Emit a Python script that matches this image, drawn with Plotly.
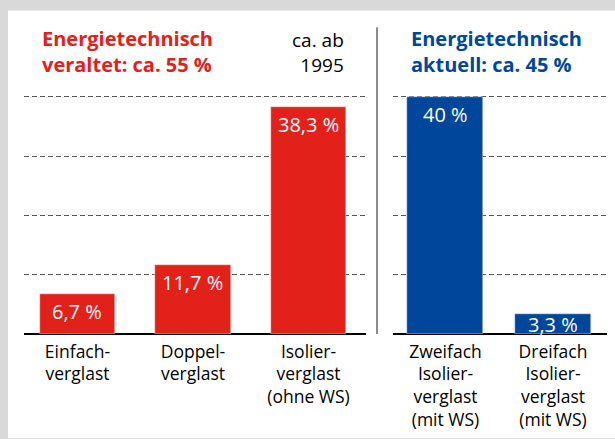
import plotly.graph_objects as go

# ---------------- data ----------------
old_categories = ["Einfach-<br>verglast", "Doppel-<br>verglast", "Isolier-<br>verglast<br>(ohne WS)"]
old_values = [6.7, 11.7, 38.3]
new_categories = ["Zweifach<br>Isolier-<br>verglast<br>(mit WS)", "Dreifach<br>Isolier-<br>verglast<br>(mit WS)"]
new_values = [40, 3.3]
old_title = ["Energietechnisch", "veraltet: ca. 55 %"]
new_title = ["Energietechnisch", "aktuell: ca. 45 %"]
note_lines = ["ca. ab", "1995"]
grid_values = [10, 20, 30, 40]

RED = "#e3211b"
BLUE = "#00479b"
FONT = "Open Sans"

W, H = 615, 439
ML, MR, MT, MB = 24, 8, 67, 103
PW = W - ML - MR
PH = H - MT - MB


def px_x(x):
    return (x - ML) / PW


def px_y(y):
    return (H - MB - y) / PH


def fmt(v):
    s = f"{v:g}".replace(".", ",")
    return s + " %"


fig = go.Figure()
fig.add_trace(go.Bar(x=old_categories, y=old_values, marker_color=RED, width=0.65,
                     xaxis="x", yaxis="y", hoverinfo="skip"))
fig.add_trace(go.Bar(x=new_categories, y=new_values, marker_color=BLUE, width=0.707,
                     xaxis="x2", yaxis="y", hoverinfo="skip"))

ann = []
YMAX = 45
for cats, vals, xr in ((old_categories, old_values, "x"), (new_categories, new_values, "x2")):
    for c, v in zip(cats, vals):
        hpx = v / YMAX * PH
        if hpx > 30:
            ann.append(dict(x=c, y=v, xref=xr, yref="y", text=fmt(v), showarrow=False,
                            yanchor="top", yshift=-2,
                            font=dict(family=FONT, size=20, color="white")))
        else:
            ann.append(dict(x=c, y=v / 2, xref=xr, yref="y", text=fmt(v), showarrow=False,
                            yanchor="middle", yshift=0,
                            font=dict(family=FONT, size=20, color="white")))

TOP = 23
ann.append(dict(x=px_x(40), y=px_y(TOP), xref="paper", yref="paper", text="<br>".join(old_title),
                showarrow=False, xanchor="left", yanchor="top", align="left",
                font=dict(family=FONT, size=20, color=RED, weight="bold")))
ann.append(dict(x=px_x(409), y=px_y(TOP), xref="paper", yref="paper", text="<br>".join(new_title),
                showarrow=False, xanchor="left", yanchor="top", align="left",
                font=dict(family=FONT, size=20, color=BLUE, weight="bold")))
ann.append(dict(x=px_x(346), y=px_y(TOP + 2), xref="paper", yref="paper", text="<br>".join(note_lines),
                showarrow=False, xanchor="right", yanchor="top", align="right",
                font=dict(family=FONT, size=19, color="black")))

shapes = [
    dict(type="rect", xref="paper", yref="paper", x0=px_x(8), x1=px_x(W + 2), y0=px_y(10), y1=px_y(H + 2),
         fillcolor="white", line=dict(width=0), layer="below"),
    dict(type="line", xref="paper", yref="paper", x0=px_x(377), x1=px_x(377), y0=0, y1=px_y(27),
         line=dict(color="#666666", width=1.5)),
]

fig.update_layout(
    width=W, height=H,
    margin=dict(l=ML, r=MR, t=MT, b=MB),
    paper_bgcolor="#d9d9d9",
    plot_bgcolor="rgba(0,0,0,0)",
    showlegend=False,
    bargap=0,
    annotations=ann,
    shapes=shapes,
    font=dict(family=FONT, size=17, color="black"),
    xaxis=dict(domain=[0, px_x(366)], type="category", range=[-0.463, 2.498],
               showgrid=False, showline=False, ticks="", zeroline=False, ticklabelstandoff=5,
               tickfont=dict(family=FONT, size=17.5, color="black")),
    xaxis2=dict(domain=[px_x(393), 1], type="category", range=[-0.488, 1.502], anchor="y",
                showgrid=False, showline=False, ticks="", zeroline=False, ticklabelstandoff=5,
                tickfont=dict(family=FONT, size=17.5, color="black")),
    yaxis=dict(range=[0, YMAX], tickvals=grid_values, showticklabels=False, ticks="",
               showgrid=True, gridcolor="#555555", gridwidth=1, griddash="5px,3px",
               zeroline=True, zerolinecolor="black", zerolinewidth=1.5, showline=False),
)

fig.write_html("out.html", config={"displayModeBar": False},
               post_script="document.body.style.margin='0';document.body.style.background='#d9d9d9';")
